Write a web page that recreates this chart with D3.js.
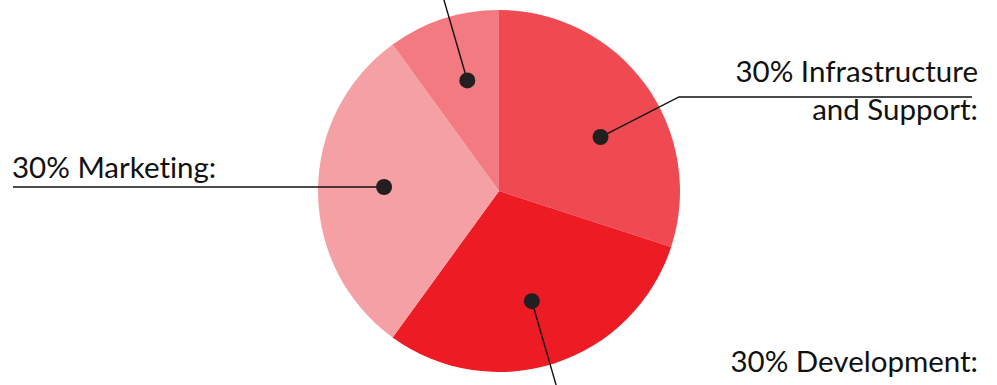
<!DOCTYPE html>
<html><head><meta charset="utf-8">
<script src="https://cdn.jsdelivr.net/npm/d3@7"></script>
<style>body{margin:0;background:#fff}svg{display:block}text{font-variant-ligatures:none;font-feature-settings:"liga" 0}</style>
</head><body>
<script>
const categories = ["Infrastructure and Support", "Development", "Marketing", "Other"];
const values = [30, 30, 30, 10];
const colors = ["#ef4a51", "#ed1c24", "#f5a0a4", "#f27a80"];
const labelLines = [["30% Infrastructure", "and Support:"], ["30% Development:"], ["30% Marketing:"], []];

const W = 997, H = 385;
const cx = 499, cy = 191, R = 181, dotR = 115;
const svg = d3.select("body").append("svg").attr("width", W).attr("height", H);

const pie = d3.pie().sort(null).value(d => d)(values);
const arc = d3.arc().innerRadius(0).outerRadius(R);
const g = svg.append("g").attr("transform", `translate(${cx},${cy})`);
g.selectAll("path").data(pie).join("path")
  .attr("d", arc).attr("fill", (d, i) => colors[i]);

// dot positions (polar from slice mid-angle, slight tweaks to match reference)
const tweak = [8 * Math.PI / 180, 1.4 * Math.PI / 180, 2 * Math.PI / 180, 2 * Math.PI / 180];
const dots = pie.map((d, i) => {
  const a = (d.startAngle + d.endAngle) / 2 + tweak[i];
  return [cx + dotR * Math.sin(a), cy - dotR * Math.cos(a)];
});

const font = "'Lato', 'Open Sans', sans-serif";
const fs = 29.5;
const lines = svg.append("g").attr("stroke", "#111").attr("stroke-width", 1.4).attr("fill", "none");

// Infrastructure leader
lines.append("polyline").attr("points", [dots[0], [679, 97], [972, 97]].map(p => p.join(",")).join(" "));
// Development leader
lines.append("line").attr("x1", dots[1][0]).attr("y1", dots[1][1])
  .attr("x2", dots[1][0] + 24.3 * 1.2).attr("y2", dots[1][1] + 84 * 1.2);
// Marketing leader
lines.append("line").attr("x1", dots[2][0]).attr("y1", dots[2][1]).attr("x2", 13).attr("y2", dots[2][1]);
// Other leader
lines.append("line").attr("x1", dots[3][0]).attr("y1", dots[3][1])
  .attr("x2", dots[3][0] - 23.7 * 1.2).attr("y2", dots[3][1] - 81.7 * 1.2);

svg.append("g").selectAll("circle").data(dots).join("circle")
  .attr("cx", d => d[0]).attr("cy", d => d[1]).attr("r", 8).attr("fill", "#231f20");

const txt = svg.append("g").attr("font-family", font).attr("font-size", fs).attr("fill", "#111");
txt.append("text").attr("x", 978).attr("y", 82).attr("text-anchor", "end").text(labelLines[0][0]);
txt.append("text").attr("x", 978).attr("y", 120).attr("text-anchor", "end").text(labelLines[0][1]);
txt.append("text").attr("x", 978).attr("y", 372).attr("text-anchor", "end").text(labelLines[1][0]);
txt.append("text").attr("x", 12).attr("y", 178).attr("text-anchor", "start").text(labelLines[2][0]);
</script>
</body></html>
